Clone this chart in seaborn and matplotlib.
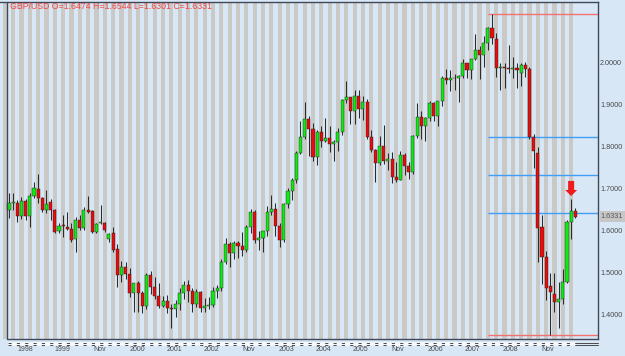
import numpy as np
import pandas as pd
import matplotlib
matplotlib.use("Agg")
import matplotlib.pyplot as plt
import matplotlib.transforms as mtransforms
from matplotlib.patches import Polygon
import seaborn as sns

# ---------------- data ----------------
symbol = "GBP/USD"
months = pd.date_range("1998-03-01", periods=137, freq="MS").strftime("%Y-%m").tolist()

opens = [
    1.650, 1.666, 1.666, 1.635, 1.670, 1.635, 1.683, 1.700, 1.677, 1.649,
    1.667, 1.649, 1.599, 1.612, 1.609, 1.604, 1.579, 1.625, 1.605, 1.649, 1.646, 1.597,
    1.617, 1.618, 1.579, 1.593, 1.555, 1.494, 1.514, 1.497, 1.452, 1.476, 1.452, 1.420,
    1.493, 1.466, 1.443, 1.420, 1.433, 1.415, 1.414, 1.424, 1.451, 1.470, 1.455, 1.426,
    1.453, 1.416, 1.420, 1.422, 1.457, 1.462, 1.525, 1.567, 1.546, 1.570, 1.564, 1.554,
    1.609, 1.644, 1.577, 1.583, 1.598, 1.645, 1.651, 1.611, 1.577, 1.663, 1.695, 1.721,
    1.785, 1.823, 1.866, 1.841, 1.775, 1.835, 1.814, 1.820, 1.805, 1.810, 1.835, 1.910,
    1.919, 1.885, 1.921, 1.890, 1.907, 1.823, 1.792, 1.760, 1.801, 1.766, 1.770, 1.728,
    1.720, 1.780, 1.754, 1.740, 1.824, 1.870, 1.848, 1.867, 1.904, 1.872, 1.909, 1.964,
    1.958, 1.963, 1.962, 1.969, 2.000, 1.982, 2.008, 2.030, 2.018, 2.046, 2.082, 2.055,
    1.986, 1.990, 1.988, 1.984, 1.988, 1.974, 1.994, 1.984, 1.822, 1.784, 1.608, 1.536,
    1.469, 1.448, 1.429, 1.437, 1.478, 1.620, 1.6474,
]
highs = [
    1.689, 1.690, 1.672, 1.680, 1.675, 1.689, 1.716, 1.735, 1.680, 1.696,
    1.674, 1.652, 1.617, 1.637, 1.645, 1.619, 1.633, 1.637, 1.657, 1.682, 1.649, 1.619,
    1.661, 1.621, 1.595, 1.609, 1.568, 1.528, 1.526, 1.510, 1.474, 1.479, 1.456, 1.500,
    1.504, 1.490, 1.475, 1.445, 1.446, 1.426, 1.434, 1.462, 1.480, 1.481, 1.463, 1.461,
    1.455, 1.439, 1.441, 1.466, 1.471, 1.531, 1.582, 1.573, 1.575, 1.575, 1.597, 1.612,
    1.651, 1.649, 1.600, 1.600, 1.658, 1.684, 1.665, 1.617, 1.665, 1.702, 1.726, 1.790,
    1.860, 1.905, 1.872, 1.857, 1.840, 1.849, 1.869, 1.848, 1.815, 1.843, 1.913, 1.955,
    1.919, 1.935, 1.934, 1.920, 1.913, 1.840, 1.795, 1.825, 1.852, 1.785, 1.787, 1.763,
    1.790, 1.784, 1.764, 1.828, 1.904, 1.885, 1.871, 1.908, 1.907, 1.909, 1.968, 1.985,
    1.983, 1.972, 1.970, 2.009, 2.000, 2.009, 2.067, 2.040, 2.062, 2.084, 2.1161, 2.070,
    1.998, 1.998, 2.042, 2.014, 1.998, 1.998, 2.002, 1.990, 1.830, 1.800, 1.638, 1.552,
    1.500, 1.499, 1.478, 1.508, 1.625, 1.675, 1.6544,
]
lows = [
    1.629, 1.650, 1.620, 1.627, 1.625, 1.609, 1.677, 1.665, 1.645, 1.642,
    1.625, 1.593, 1.595, 1.585, 1.601, 1.573, 1.550, 1.601, 1.601, 1.641, 1.595, 1.595,
    1.616, 1.597, 1.573, 1.550, 1.466, 1.478, 1.484, 1.441, 1.405, 1.407, 1.404, 1.414,
    1.450, 1.436, 1.416, 1.418, 1.403, 1.368, 1.395, 1.410, 1.436, 1.429, 1.406, 1.417,
    1.407, 1.407, 1.413, 1.418, 1.440, 1.455, 1.520, 1.512, 1.533, 1.535, 1.540, 1.550,
    1.595, 1.570, 1.553, 1.549, 1.586, 1.637, 1.588, 1.560, 1.573, 1.653, 1.672, 1.713,
    1.782, 1.817, 1.778, 1.765, 1.755, 1.800, 1.810, 1.788, 1.765, 1.789, 1.828, 1.903,
    1.853, 1.854, 1.867, 1.863, 1.817, 1.786, 1.716, 1.755, 1.758, 1.745, 1.712, 1.716,
    1.720, 1.733, 1.722, 1.735, 1.820, 1.818, 1.813, 1.860, 1.860, 1.850, 1.897, 1.950,
    1.932, 1.934, 1.906, 1.963, 1.963, 1.960, 2.006, 1.960, 1.990, 2.030, 2.045, 1.965,
    1.935, 1.940, 1.974, 1.962, 1.940, 1.943, 1.966, 1.818, 1.749, 1.526, 1.472, 1.435,
    1.3503, 1.406, 1.368, 1.425, 1.475, 1.580, 1.6301,
]
closes = [
    1.666, 1.668, 1.635, 1.670, 1.635, 1.683, 1.701, 1.677, 1.649, 1.663,
    1.649, 1.597, 1.611, 1.610, 1.603, 1.577, 1.625, 1.607, 1.649, 1.645, 1.597, 1.616,
    1.618, 1.601, 1.592, 1.554, 1.494, 1.514, 1.497, 1.452, 1.476, 1.452, 1.420, 1.493,
    1.466, 1.443, 1.420, 1.433, 1.415, 1.414, 1.424, 1.451, 1.470, 1.455, 1.426, 1.453,
    1.416, 1.420, 1.422, 1.457, 1.462, 1.525, 1.567, 1.546, 1.570, 1.564, 1.554, 1.609,
    1.644, 1.577, 1.583, 1.598, 1.645, 1.651, 1.611, 1.577, 1.663, 1.695, 1.721, 1.785,
    1.823, 1.866, 1.841, 1.775, 1.835, 1.814, 1.820, 1.805, 1.810, 1.835, 1.910, 1.919,
    1.885, 1.921, 1.890, 1.907, 1.823, 1.792, 1.760, 1.801, 1.766, 1.770, 1.728, 1.720,
    1.780, 1.754, 1.740, 1.824, 1.870, 1.848, 1.867, 1.904, 1.872, 1.909, 1.964, 1.958,
    1.963, 1.962, 1.969, 2.000, 1.982, 2.008, 2.030, 2.018, 2.046, 2.081, 2.058, 1.986,
    1.990, 1.988, 1.984, 1.988, 1.982, 1.994, 1.984, 1.822, 1.789, 1.607, 1.536, 1.462,
    1.454, 1.430, 1.437, 1.478, 1.620, 1.6474, 1.6331,
]

x_labels = ["1998", "1999", "Nov", "2000", "2001", "2002", "Nov", "2003",
            "2004", "2005", "Nov", "2006", "2007", "2008", "Nov"]
y_ticks = [1.4, 1.5, 1.6, 1.7, 1.8, 1.9, 2.0]
fib_ratios = [0.382, 0.5, 0.618]

# ---------------- style ----------------
BG = "#d8e7f6"
STRIPE = "#cbc9c5"
FRAME = "#3e4856"
UP = "#12e812"
DOWN = "#e80c0c"
WICK = "#2c2c2c"

sns.set_theme(style="white")
plt.rcParams["font.family"] = ["Liberation Sans", "DejaVu Sans"]
plt.rcParams["lines.scale_dashes"] = False

W, H = 625, 356
fig = plt.figure(figsize=(W / 100, H / 100), dpi=100, facecolor=BG)

ax_left_px, ax_right_px, ax_top_px, ax_bot_px = 0.0, 598.3, 1.5, 339.3
ax = fig.add_axes([ax_left_px / W, 1 - ax_bot_px / H,
                   (ax_right_px - ax_left_px) / W, (ax_bot_px - ax_top_px) / H])
ax.set_facecolor(BG)

n = len(closes)
idx = np.arange(n)
step_px, first_px = 4.164, 9.0          # layout of candle columns
px_per_unit, y_ref_px, y_ref = 420.0, 62.5, 2.0

def px_to_idx(px):
    return (px - first_px) / step_px

def px_to_price(py):
    return y_ref - (py - y_ref_px) / px_per_unit

xmin, xmax = px_to_idx(ax_left_px), px_to_idx(ax_right_px)
ymin, ymax = px_to_price(ax_bot_px), px_to_price(ax_top_px)
ax.set_xlim(xmin, xmax)
ax.set_ylim(ymin, ymax)

# alternating column stripes
for i in range(-1, n, 2):
    ax.axvspan(i - 0.5, i + 0.5, color=STRIPE, lw=0, zorder=0)

df = pd.DataFrame({"month": months, "open": opens, "high": highs,
                   "low": lows, "close": closes})
df["x"] = idx
up = df["close"] >= df["open"]
body_bottom = np.minimum(df["open"], df["close"])
body_h = np.maximum(np.abs(df["close"] - df["open"]), 0.0022)

# wicks
ax.vlines(df["x"], df["low"], df["high"], color=WICK, lw=0.75, zorder=3)
# bodies
ax.bar(df["x"], body_h, bottom=body_bottom, width=0.74,
       color=np.where(up, UP, DOWN), edgecolor="#1e1e1e", linewidth=0.3, zorder=4)

# retracement lines from top to bottom of the move
peak_i = int(np.argmax(df["high"]))
hi, lo = df["high"].max(), df["low"].min()
line_start = peak_i - 1
ax.hlines([hi, lo], line_start, xmax, color="#f27272", lw=1.0, zorder=2)
ax.hlines([lo + r * (hi - lo) for r in fib_ratios], line_start, xmax,
          color="#3f9ef5", lw=1.0, zorder=2)

# red arrow above the June 2009 high
arr_i = n - 2
arr_h = df["high"].iloc[arr_i]
tip = arr_h + 0.007
base = arr_h + 0.0215
top = arr_h + 0.043
hw, sw = 1.44, 0.72
arrow = Polygon([(arr_i - sw, top), (arr_i + sw, top), (arr_i + sw, base),
                 (arr_i + hw, base), (arr_i, tip), (arr_i - hw, base),
                 (arr_i - sw, base)], closed=True, facecolor="#ee1c1c",
                edgecolor="none", zorder=6)
ax.add_patch(arrow)

# frame
for s in ["left", "bottom"]:
    ax.spines[s].set_visible(False)
for s in ["top", "right"]:
    ax.spines[s].set_color(FRAME)
    ax.spines[s].set_linewidth(1.0)
frame_x = px_to_idx(7.3)
ax.axvline(frame_x, color=FRAME, lw=1.0, zorder=7)
ax.plot([frame_x, xmax], [ymin, ymin], color=FRAME, lw=1.0, clip_on=False, zorder=7)

# y axis on the right
ax.yaxis.tick_right()
ax.set_yticks(y_ticks)
ax.set_yticklabels([f"{v:.4f}" for v in y_ticks])
ax.tick_params(axis="y", length=0, pad=1.2, labelsize=5.2, labelcolor="#4a4a4a")

# x axis labels
label_pos = [3.85 + k * 8.96 for k in range(len(x_labels))]
ax.set_xticks(label_pos)
ax.set_xticklabels(x_labels)
ax.tick_params(axis="x", length=0, pad=5.0, labelsize=5.0, labelcolor="#4a4a4a")
ax.grid(False)

# last price marker
last = df["close"].iloc[-1]
trans = mtransforms.blended_transform_factory(ax.transAxes, ax.transData)
ax.text(1.0 + 2.5 / (ax_right_px - ax_left_px), last, f"{last:.4f}", transform=trans,
        ha="left", va="center", fontsize=5.2, color="#555555",
        bbox=dict(facecolor="#c6c6c6", edgecolor="none", pad=1.2), zorder=8)

# OHLC header
o, h_, l_, c = (df[k].iloc[-1] for k in ["open", "high", "low", "close"])
ax.text(10 / (ax_right_px - ax_left_px), 1 - 4.8 / (ax_bot_px - ax_top_px),
        f"{symbol} O={o:.4f} H={h_:.4f} L={l_:.4f} C={c:.4f}",
        transform=ax.transAxes, ha="left", va="center", fontsize=6.3,
        color="#f24444", zorder=8)

# time ruler below the frame (decoration)
ov = fig.add_axes([0, 0, 1, 1], facecolor="none")
ov.set_xlim(0, W)
ov.set_ylim(H, 0)
ov.axis("off")
ov.plot([7.5, 576], [344.2, 344.2], color="#f6f9fc", lw=2.6, solid_capstyle="butt")
for yy in (343.0, 345.4):
    ov.plot([8.0, 576], [yy, yy], color="#4a4a4a", lw=0.7,
            dashes=(2.3, 3.7), solid_capstyle="butt")
    ov.plot([576, 598], [yy, yy], color="#4a4a4a", lw=0.7)

fig.savefig("out.png", dpi=100, facecolor=BG)
